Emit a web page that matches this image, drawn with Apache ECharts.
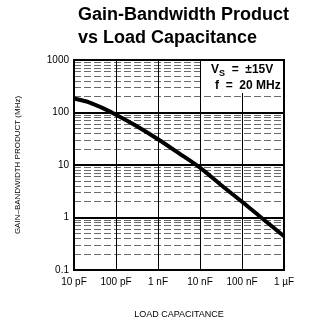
<!DOCTYPE html>
<html>
<head>
<meta charset="utf-8">
<script src="https://cdn.jsdelivr.net/npm/echarts@6/dist/echarts.min.js"></script>
<style>
  html, body { margin: 0; padding: 0; background: #fff; }
  #chart { width: 310px; height: 325px; }
</style>
</head>
<body>
<div id="chart"></div>
<script>
// load capacitance in pF, gain-bandwidth in MHz
var capPF = [10, 20, 30, 50, 100, 300, 1000, 3000, 10000, 30000, 100000, 300000, 1000000];
var gbwMHz = [185, 162, 143, 120, 91, 56, 31, 17.2, 8.9, 4.3, 2.0, 0.97, 0.44];
var xTickLabels = ['10 pF', '100 pF', '1 nF', '10 nF', '100 nF', '1 µF'];
var yTickLabels = ['0.1', '1', '10', '100', '1000'];

var chart = echarts.init(document.getElementById('chart'), null, { renderer: 'canvas' });

var font = 'Liberation Sans, Arial, sans-serif';

var option = {
  animation: false,
  title: {
    text: 'Gain-Bandwidth Product\nvs Load Capacitance',
    left: 78,
    top: 4,
    padding: 0,
    textStyle: { fontFamily: font, fontWeight: 'bold', fontSize: 18, lineHeight: 23, color: '#000' }
  },
  grid: { left: 74, right: 26, top: 60, bottom: 55 },
  xAxis: {
    type: 'log',
    logBase: 10,
    min: 10,
    max: 1000000,
    name: 'LOAD CAPACITANCE',
    nameLocation: 'middle',
    nameGap: 40,
    nameTextStyle: { fontFamily: font, fontSize: 9, color: '#000' },
    axisLine: { show: true, lineStyle: { color: '#000', width: 2 } },
    axisTick: { show: false },
    axisLabel: {
      fontFamily: font, fontSize: 10, color: '#000', margin: 7,
      formatter: function (v) {
        var i = Math.round(Math.log10(v)) - 1;
        return xTickLabels[i] || '';
      }
    },
    splitLine: { show: true, lineStyle: { color: '#000', width: 1 } }
  },
  yAxis: {
    type: 'log',
    logBase: 10,
    min: 0.1,
    max: 1000,
    name: 'GAIN–BANDWIDTH PRODUCT (MHz)',
    nameLocation: 'middle',
    nameGap: 52,
    nameRotate: 90,
    nameTextStyle: { fontFamily: font, fontSize: 8, color: '#000' },
    axisLine: { show: true, lineStyle: { color: '#000', width: 2 } },
    axisTick: { show: false },
    axisLabel: {
      fontFamily: font, fontSize: 10, color: '#000', margin: 5,
      formatter: function (v) {
        var i = Math.round(Math.log10(v)) + 1;
        return yTickLabels[i] || '';
      }
    },
    splitLine: { show: true, lineStyle: { color: '#000', width: 2 } },
    minorTick: { show: false, splitNumber: 9 },
    minorSplitLine: { show: true, lineStyle: { color: '#444', width: 0.8, type: [7, 3] } }
  },
  graphic: [
    {
      type: 'rect',
      z: 100,
      shape: { x: 203, y: 61, width: 80, height: 32 },
      style: { fill: '#fff' }
    },
    {
      type: 'text',
      z: 101,
      left: 211, top: 64,
      style: {
        rich: {
          a: { fontFamily: font, fontSize: 12, fontWeight: 'bold', fill: '#000' },
          s: { fontFamily: font, fontSize: 9, fontWeight: 'bold', fill: '#000', padding: [7, 0, 0, 0] }
        },
        text: '{a|V}{s|S}{a|  =  ±15V}'
      }
    },
    {
      type: 'text',
      z: 101,
      left: 215, top: 80,
      style: { text: 'f  =  20 MHz', fontFamily: font, fontSize: 12, fontWeight: 'bold', fill: '#000' }
    },
    {
      type: 'rect',
      z: 102,
      shape: { x: 74, y: 60, width: 210, height: 210 },
      style: { fill: 'none', stroke: '#000', lineWidth: 2 }
    }
  ],
  series: [{
    type: 'line',
    data: capPF.map(function (c, i) { return [c, gbwMHz[i]]; }),
    smooth: 0.3,
    showSymbol: false,
    lineStyle: { color: '#000', width: 4 }
  }]
};

chart.setOption(option);
</script>
</body>
</html>
